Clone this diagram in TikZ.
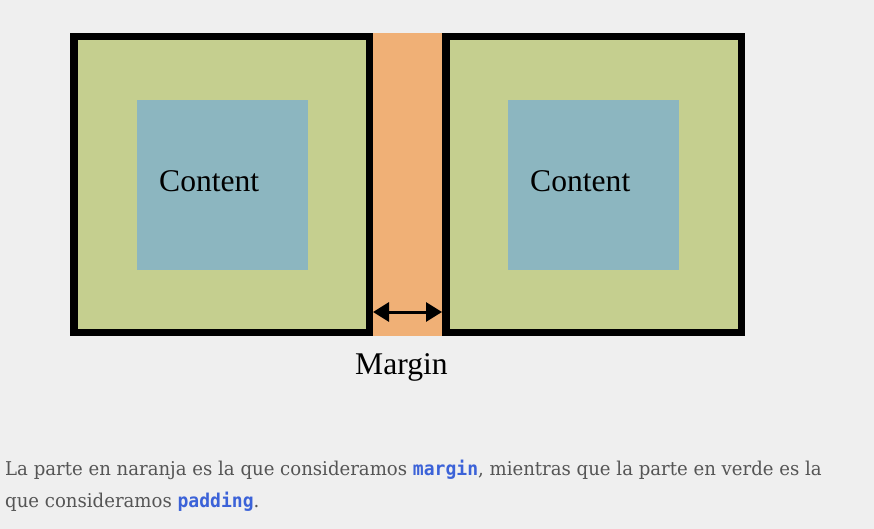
\documentclass[tikz,border=0pt]{standalone}
\usepackage{fontspec}
\setmainfont{Liberation Serif}
\newfontfamily\bodyfont[FakeStretch=0.953]{DejaVu Serif}
\newfontfamily\codefont[FakeStretch=0.95]{DejaVu Sans Mono}
\usetikzlibrary{arrows.meta}
\definecolor{bg}{HTML}{EFEFEF}
\definecolor{padgreen}{HTML}{C5CF8F}
\definecolor{contblue}{HTML}{8CB6C0}
\definecolor{margorange}{HTML}{F0B076}
\definecolor{bodygray}{HTML}{555555}
\definecolor{codeblue}{HTML}{3B62D8}
\tikzset{
  boxframe/.style={draw=black, fill=padgreen, line width=7.5pt, inner sep=0pt,
    minimum width=295.5pt, minimum height=295.5pt},
  contentbox/.style={fill=contblue, inner sep=0pt, minimum width=171pt, minimum height=170pt},
  marginband/.style={fill=margorange, inner sep=0pt, minimum width=69pt, minimum height=303pt},
  bigtext/.style={font=\fontsize{31.6pt}{36pt}\selectfont, inner sep=0pt, text=black},
  bodytext/.style={font=\bodyfont\fontsize{19pt}{22pt}\selectfont, inner sep=0pt, text=bodygray},
  marrow/.style={{Triangle[length=16pt,width=19pt]}-{Triangle[length=16pt,width=19pt]}, line width=3pt, black}
}
\newcommand{\codeword}[1]{{\codefont\bfseries\color{codeblue}#1}}
\begin{document}
\begin{tikzpicture}[x=1pt,y=-1pt]
\fill[bg] (0,0) rectangle (874,529);
\useasboundingbox (0,0) rectangle (874,529);
\node[marginband] (band) at (407.5,184.5) {};
\node[boxframe] (boxL) at (221.5,184.5) {};
\node[boxframe] (boxR) at (593.5,184.5) {};
\node[contentbox] (contL) at (222.5,185) {};
\node[contentbox] (contR) at (593.5,185) {};
\node[bigtext, anchor=base west] (txtL) at (159,192) {Content};
\node[bigtext, anchor=base west] (txtR) at (530,192) {Content};
\node[bigtext, anchor=base west] (marg) at (355,374) {Margin};
\coordinate (aL) at (373,312);
\coordinate (aR) at (442,312);
\draw[marrow] (aL) -- (aR);
\node[bodytext, anchor=base west] (line1) at (5,475) {La parte en naranja es la que consideramos \codeword{margin}, mientras que la parte en verde es la};
\node[bodytext, anchor=base west] (line2) at (5,507) {que consideramos \codeword{padding}.};
\end{tikzpicture}
\end{document}
